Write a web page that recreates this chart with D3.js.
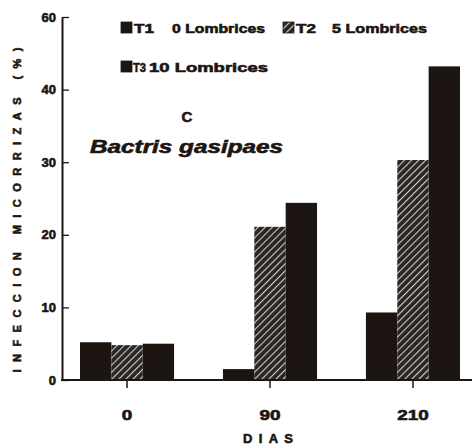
<!DOCTYPE html>
<html>
<head>
  <meta charset="utf-8"><script src="https://d3js.org/d3.v7.min.js"></script>
</head>
<body style="margin:0" onload="execute()">
  <svg id="mychart" width="472" height="447" style="background: white"></svg>
</body>
<script>
  // data
  const days = ["0", "90", "210"]
  const treatments = ["T1", "T2", "T3"]
  const t1 = [5.2, 1.5, 9.3]
  const t2 = [4.8, 21.1, 30.3]
  const t3 = [5.0, 24.4, 43.2]
  const yTickValues = [0, 10, 20, 30, 40, 50]
  const yTickLabels = ["0", "10", "20", "30", "40", "60"]
  const legendNames = ["T1", "T2", "T3"]
  const legendTexts = ["0 Lombrices", "5 Lombrices", "10 Lombrices"]

  function execute() {
    const width = 472, height = 447
    const ink = "#1d1512"
    const font = "'Liberation Sans', Arial, sans-serif"

    const data = days.map((d, i) => ({day: d, T1: t1[i], T2: t2[i], T3: t3[i]}))

    const x0 = 62, yBase = 380

    const y = d3.scaleLinear().domain([0, 50]).range([yBase, 17])

    const x = d3.scaleBand().domain(days)
        .range([65.7, 474.3]).paddingInner(0.342).paddingOuter(0.1)

    const xs = d3.scaleBand().domain(treatments).range([0, x.bandwidth()])

    const svg = d3.select("#mychart")

    // heavy print look
    const heavy = sel => sel.attr("font-family", font).attr("font-weight", "bold")
        .attr("fill", ink).attr("stroke", ink).attr("stroke-width", 0.6)

    const defs = svg.append("defs")
    const pat = defs.append("pattern")
        .attr("id", "hatch").attr("patternUnits", "userSpaceOnUse")
        .attr("width", 5).attr("height", 5)
        .attr("patternTransform", "rotate(45)")
    pat.append("rect").attr("width", 5).attr("height", 5).attr("fill", "#2b2624")
    pat.append("line").attr("x1", 0).attr("y1", 0).attr("x2", 0).attr("y2", 5)
        .attr("stroke", "#cfcbc8").attr("stroke-width", 2.2)

    const fillFor = t => t === "T2" ? "url(#hatch)" : ink

    // bars
    svg.append("g").selectAll("g").data(data).join("g")
        .attr("transform", d => `translate(${x(d.day)},0)`)
      .selectAll("rect")
      .data(d => treatments.map(t => ({t, v: d[t]})))
      .join("rect")
        .attr("x", d => xs(d.t))
        .attr("y", d => y(d.v))
        .attr("width", xs.bandwidth())
        .attr("height", d => y(0) - y(d.v))
        .attr("fill", d => fillFor(d.t))

    // y axis
    svg.append("g")
        .attr("transform", `translate(${x0},0)`)
        .call(d3.axisLeft(y).tickValues(yTickValues)
            .tickFormat((d, i) => yTickLabels[i])
            .tickSizeInner(-7).tickSizeOuter(0).tickPadding(6))
        .call(g => g.select(".domain").attr("stroke", ink).attr("stroke-width", 2))
        .call(g => g.selectAll(".tick line").attr("stroke", ink).attr("stroke-width", 1.3))
        .call(g => g.selectAll(".tick text").call(heavy).attr("font-size", 13))

    // x axis
    svg.append("g")
        .attr("transform", `translate(0,${yBase})`)
        .call(d3.axisBottom(x).tickSizeInner(8).tickSizeOuter(0).tickPadding(22))
        .call(g => g.select(".domain").remove())
        .call(g => g.selectAll(".tick line").attr("stroke", ink).attr("stroke-width", 1.5))
        .call(g => g.selectAll(".tick text").call(heavy).attr("font-size", 14)
            .attr("textLength", d => d.length * 10.5).attr("lengthAdjust", "spacingAndGlyphs"))

    svg.append("line")
        .attr("x1", x0 - 1).attr("x2", width)
        .attr("y1", yBase).attr("y2", yBase)
        .attr("stroke", ink).attr("stroke-width", 2)

    // axis titles
    svg.append("text")
        .attr("x", 268).attr("y", 443)
        .attr("text-anchor", "middle")
        .call(heavy).attr("font-size", 13)
        .attr("textLength", 50).attr("lengthAdjust", "spacing")
        .text("DIAS")

    svg.append("text")
        .attr("transform", "translate(21,210) rotate(-90)")
        .attr("text-anchor", "middle")
        .call(heavy).attr("font-size", 11)
        .attr("textLength", 325).attr("lengthAdjust", "spacing")
        .text("INFECCION MICORRIZAS (%)")

    // legend
    const legendPos = [{sx: 121, sy: 22, tx: 134, tw: 20, lx: 172, lw: 93},
                       {sx: 283, sy: 22, tx: 296, tw: 20, lx: 332, lw: 95},
                       {sx: 121, sy: 61, tx: 133, tw: 13, lx: 149, lw: 119}]
    const legend = svg.append("g")
    legendNames.forEach((n, i) => {
      const p = legendPos[i]
      legend.append("rect")
          .attr("x", p.sx).attr("y", p.sy).attr("width", 11).attr("height", 11)
          .attr("fill", fillFor(treatments[i])).attr("stroke", ink).attr("stroke-width", 0.8)
      legend.append("text")
          .attr("x", p.tx).attr("y", p.sy + 11)
          .call(heavy).attr("font-size", 13)
          .attr("textLength", p.tw).attr("lengthAdjust", "spacingAndGlyphs")
          .text(n)
      legend.append("text")
          .attr("x", p.lx).attr("y", p.sy + 11)
          .call(heavy).attr("font-size", 13)
          .attr("textLength", p.lw).attr("lengthAdjust", "spacingAndGlyphs")
          .text(legendTexts[i])
    })

    // panel letter and species
    svg.append("text")
        .attr("x", 187).attr("y", 122).attr("text-anchor", "middle")
        .call(heavy).attr("font-size", 15)
        .text("C")

    svg.append("text")
        .attr("x", 90).attr("y", 153)
        .call(heavy).attr("font-style", "italic")
        .attr("font-size", 18)
        .attr("textLength", 193).attr("lengthAdjust", "spacingAndGlyphs")
        .text("Bactris gasipaes")
  }
</script>
</html>
